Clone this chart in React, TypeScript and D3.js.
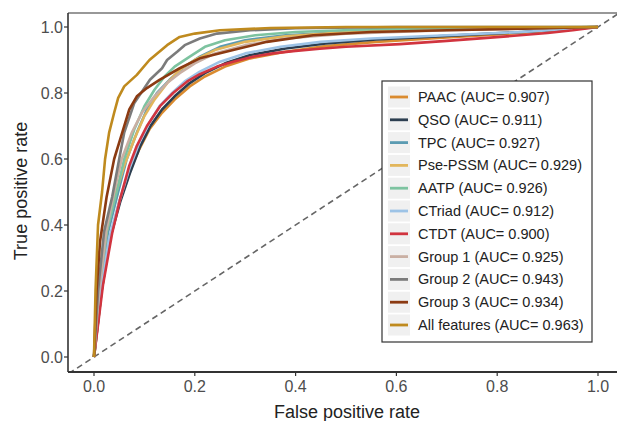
import React from "react";
import * as d3 from "d3";

type Pt = [number, number];

const seriesNames = ["PAAC", "QSO", "TPC", "Pse-PSSM", "AATP", "CTriad", "CTDT", "Group 1", "Group 2", "Group 3", "All features"];
const aucValues = ["0.907", "0.911", "0.927", "0.929", "0.926", "0.912", "0.900", "0.925", "0.943", "0.934", "0.963"];
const seriesColors = ["#DA8B2F", "#2C3E50", "#5B9BB2", "#E2B65C", "#7DC3A0", "#9DC3E6", "#D1343F", "#C9AFA3", "#7B7B7B", "#8B3A12", "#BF8A1E"];

const paac: Pt[] = [[0,0],[0.015,0.2],[0.032,0.36],[0.05,0.47],[0.07,0.56],[0.09,0.63],[0.11,0.69],[0.135,0.74],[0.16,0.78],[0.19,0.82],[0.22,0.85],[0.26,0.88],[0.31,0.905],[0.38,0.925],[0.46,0.942],[0.56,0.955],[0.7,0.968],[0.85,0.982],[1,1]];
const qso: Pt[] = [[0,0],[0.015,0.2],[0.032,0.36],[0.052,0.47],[0.072,0.56],[0.092,0.64],[0.112,0.7],[0.135,0.75],[0.16,0.79],[0.19,0.83],[0.22,0.86],[0.26,0.89],[0.31,0.915],[0.38,0.935],[0.46,0.95],[0.56,0.962],[0.7,0.973],[0.85,0.985],[1,1]];
const tpc: Pt[] = [[0,0],[0.012,0.2],[0.028,0.38],[0.048,0.5],[0.065,0.6],[0.085,0.68],[0.105,0.75],[0.125,0.8],[0.15,0.84],[0.18,0.88],[0.21,0.91],[0.25,0.94],[0.3,0.96],[0.38,0.975],[0.5,0.985],[0.7,0.993],[1,1]];
const psePssm: Pt[] = [[0,0],[0.01,0.2],[0.025,0.38],[0.04,0.48],[0.06,0.58],[0.08,0.66],[0.1,0.73],[0.12,0.78],[0.145,0.83],[0.17,0.87],[0.2,0.9],[0.24,0.93],[0.3,0.955],[0.38,0.972],[0.5,0.985],[0.7,0.993],[1,1]];
const aatp: Pt[] = [[0,0],[0.01,0.2],[0.025,0.38],[0.045,0.5],[0.06,0.6],[0.08,0.69],[0.1,0.76],[0.12,0.81],[0.14,0.85],[0.16,0.88],[0.19,0.91],[0.22,0.94],[0.26,0.96],[0.32,0.975],[0.4,0.985],[0.55,0.993],[0.75,0.998],[1,1]];
const ctriad: Pt[] = [[0,0],[0.014,0.2],[0.03,0.36],[0.05,0.47],[0.07,0.57],[0.09,0.65],[0.11,0.71],[0.13,0.76],[0.155,0.8],[0.18,0.835],[0.21,0.865],[0.25,0.895],[0.3,0.92],[0.37,0.94],[0.45,0.955],[0.55,0.965],[0.7,0.975],[0.85,0.985],[1,1]];
const ctdt: Pt[] = [[0,0],[0.018,0.22],[0.036,0.375],[0.052,0.48],[0.07,0.58],[0.085,0.64],[0.105,0.7],[0.131,0.76],[0.157,0.8],[0.185,0.835],[0.21,0.857],[0.244,0.88],[0.276,0.895],[0.315,0.91],[0.355,0.92],[0.395,0.927],[0.448,0.934],[0.5,0.94],[0.607,0.948],[0.7,0.958],[0.806,0.97],[0.9,0.982],[0.95,0.99],[1,1]];
const group1: Pt[] = [[0,0],[0.01,0.2],[0.024,0.38],[0.04,0.5],[0.055,0.6],[0.075,0.68],[0.095,0.74],[0.12,0.79],[0.145,0.83],[0.17,0.86],[0.2,0.89],[0.24,0.92],[0.3,0.945],[0.38,0.965],[0.5,0.98],[0.7,0.99],[1,1]];
const group2: Pt[] = [[0,0],[0.008,0.2],[0.02,0.38],[0.036,0.485],[0.05,0.6],[0.06,0.68],[0.08,0.77],[0.1,0.815],[0.111,0.84],[0.135,0.875],[0.145,0.9],[0.165,0.925],[0.18,0.945],[0.21,0.965],[0.244,0.98],[0.31,0.99],[0.4,0.996],[0.6,1],[1,1]];
const group3: Pt[] = [[0,0],[0.005,0.2],[0.012,0.35],[0.025,0.485],[0.04,0.6],[0.056,0.68],[0.07,0.75],[0.085,0.79],[0.105,0.815],[0.13,0.84],[0.17,0.875],[0.21,0.905],[0.276,0.93],[0.343,0.955],[0.435,0.975],[0.55,0.985],[0.7,0.99],[0.85,0.995],[1,1]];
const allFeatures: Pt[] = [[0,0],[0.003,0.2],[0.008,0.4],[0.016,0.5],[0.022,0.6],[0.03,0.68],[0.04,0.74],[0.048,0.785],[0.06,0.82],[0.085,0.855],[0.11,0.9],[0.145,0.945],[0.17,0.97],[0.2,0.98],[0.25,0.99],[0.35,0.997],[0.5,1],[1,1]];

const seriesData: Pt[][] = [paac, qso, tpc, psePssm, aatp, ctriad, ctdt, group1, group2, group3, allFeatures];
const tickValues = [0, 0.2, 0.4, 0.6, 0.8, 1.0];

const W = 617, H = 421;
const frame = { left: 68, top: 13, right: 625, bottom: 372 };

export default function App() {
  const x = d3.scaleLinear().domain([0, 1]).range([94, 598]);
  const y = d3.scaleLinear().domain([0, 1]).range([357, 27]);
  const line = d3.line<Pt>().x(d => x(d[0])).y(d => y(d[1]));
  const font = "'Liberation Sans', Arial, sans-serif";
  const legendX = 382, legendY = 81, legendW = 210, legendH = 261;
  const rowH = 22.8, firstRow = 97;

  return (
    <svg width={W} height={H} style={{ position: "absolute", left: 0, top: 0, background: "#fff" }} fontFamily={font}>
      <defs>
        <clipPath id="plotclip">
          <rect x={frame.left} y={frame.top} width={frame.right - frame.left} height={frame.bottom - frame.top} />
        </clipPath>
      </defs>
      <rect x={0} y={0} width={W} height={H} fill="#fff" />
      <g clipPath="url(#plotclip)">
        <line x1={x(-0.1)} y1={y(-0.1)} x2={x(1.1)} y2={y(1.1)} stroke="#666" strokeWidth={1.6} strokeDasharray="6,4" />
        {seriesData.map((d, i) => (
          <path key={i} d={line(d) || ""} fill="none" stroke={seriesColors[i]} strokeWidth={2.6} strokeLinejoin="round" />
        ))}
      </g>
      {/* frame */}
      <line x1={frame.left} y1={frame.top} x2={W + 5} y2={frame.top} stroke="#333" strokeWidth={1.2} />
      <line x1={frame.left} y1={frame.top} x2={frame.left} y2={frame.bottom} stroke="#333" strokeWidth={1.6} />
      <line x1={frame.left} y1={frame.bottom} x2={W + 5} y2={frame.bottom} stroke="#333" strokeWidth={2} />
      {/* y axis */}
      {tickValues.map((t, i) => (
        <g key={"y" + i}>
          <line x1={frame.left - 4} x2={frame.left} y1={y(t)} y2={y(t)} stroke="#333" strokeWidth={1.2} />
          <text x={frame.left - 5} y={y(t)} dy="0.35em" textAnchor="end" fontSize={16} fill="#4d4d4d">{t.toFixed(1)}</text>
        </g>
      ))}
      {/* x axis */}
      {tickValues.map((t, i) => (
        <g key={"x" + i}>
          <line x1={x(t)} x2={x(t)} y1={frame.bottom} y2={frame.bottom + 4} stroke="#333" strokeWidth={1.2} />
          <text x={x(t)} y={frame.bottom + 20} textAnchor="middle" fontSize={16} fill="#4d4d4d">{t.toFixed(1)}</text>
        </g>
      ))}
      <text x={347} y={418} textAnchor="middle" fontSize={18} fill="#222">False positive rate</text>
      <text transform={`translate(27,${191}) rotate(-90)`} textAnchor="middle" fontSize={18} fill="#222">True positive rate</text>
      {/* legend */}
      <rect x={legendX} y={legendY} width={legendW} height={legendH} fill="#fff" stroke="#333" strokeWidth={1.2} />
      {seriesNames.map((name, i) => {
        const cy = firstRow + i * rowH;
        return (
          <g key={"l" + i}>
            <rect x={388} y={cy - 10.5} width={22} height={21} fill="#f0f0f0" />
            <line x1={390} x2={408} y1={cy} y2={cy} stroke={seriesColors[i]} strokeWidth={2.8} />
            <text x={418} y={cy} dy="0.35em" fontSize={14.5} fill="#222">{`${name} (AUC= ${aucValues[i]})`}</text>
          </g>
        );
      })}
    </svg>
  );
}
